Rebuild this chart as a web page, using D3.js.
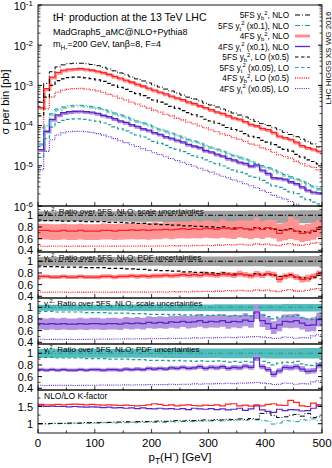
<!DOCTYPE html>
<html><head><meta charset="utf-8">
<script src="https://cdn.jsdelivr.net/npm/d3@7"></script>
<style>body{margin:0;background:#fff} text{font-family:"Liberation Sans",Arial,sans-serif;fill:#000}</style>
</head><body><svg id="c" width="332" height="468"></svg>
<script>
// ---------------- DATA ----------------
const binLow = [0,10,20,30,40,50,60,70,80,90,100,110,120,130,140,150,160,170,180,190,200,210,220,230,240,250,260,270,280,290,300,310,320,330,340,350,360,370,380,390,400,410,420,430,440,450,460,470,480,490];
const xTicks = [0,100,200,300,400,500];
const yLogTicks = [1e-1,1e-2,1e-3,1e-4,1e-5,1e-6];
const yLogExp = ["-1","-2","-3","-4","-5","-6"];
const ratioTicks = [1,0.8,0.6,0.4];
const kTicks = [1.5,1];

// 5FS y_b^2 NLO  [pb per bin]
const yb5NLO = [3.8e-4,1.12e-3,2.19e-3,2.88e-3,3.24e-3,3.47e-3,3.55e-3,3.56e-3,3.46e-3,3.31e-3,
 3.09e-3,2.83e-3,2.56e-3,2.30e-3,2.04e-3,1.83e-3,1.62e-3,1.45e-3,1.29e-3,1.15e-3,
 1.02e-3,9.1e-4,8.1e-4,7.25e-4,6.45e-4,5.75e-4,5.1e-4,4.6e-4,4.1e-4,3.6e-4,
 3.25e-4,2.9e-4,2.57e-4,2.3e-4,2.05e-4,1.83e-4,1.64e-4,1.43e-4,1.27e-4,1.12e-4,
 1.0e-4,8.8e-5,7.9e-5,6.8e-5,6.0e-5,5.3e-5,4.6e-5,4.0e-5,3.5e-5,2.95e-5];
// 5FS y_t^2 NLO  [pb per bin] (drawn x0.1)
const yt5NLO = [3.5e-4,1.02e-3,1.98e-3,2.6e-3,2.92e-3,3.12e-3,3.2e-3,3.2e-3,3.13e-3,2.99e-3,
 2.79e-3,2.55e-3,2.33e-3,2.07e-3,1.85e-3,1.65e-3,1.47e-3,1.31e-3,1.17e-3,1.04e-3,
 9.2e-4,8.2e-4,7.3e-4,6.5e-4,5.85e-4,5.2e-4,4.6e-4,4.15e-4,3.7e-4,3.25e-4,
 2.93e-4,2.6e-4,2.3e-4,2.07e-4,1.85e-4,1.64e-4,1.47e-4,1.3e-4,1.14e-4,1.01e-4,
 9.0e-5,7.9e-5,7.0e-5,6.1e-5,5.35e-5,4.7e-5,4.1e-5,3.6e-5,3.15e-5,2.7e-5];

// ratios over 5FS NLO (y_b^2)
const r4ybNLO = [0.74,0.74,0.73,0.73,0.74,0.73,0.73,0.74,0.73,0.73,
 0.73,0.74,0.74,0.73,0.74,0.74,0.75,0.74,0.75,0.74,
 0.75,0.75,0.76,0.75,0.76,0.77,0.76,0.77,0.76,0.78,
 0.77,0.76,0.78,0.77,0.76,0.79,0.77,0.75,0.78,0.76,
 0.79,0.77,0.69,0.74,0.76,0.73,0.69,0.71,0.74,0.79];
const r5ybLO = [0.92,0.91,0.91,0.91,0.90,0.90,0.90,0.90,0.89,0.89,
 0.89,0.89,0.88,0.88,0.88,0.87,0.87,0.86,0.86,0.85,
 0.85,0.84,0.84,0.83,0.83,0.82,0.82,0.81,0.81,0.80,
 0.80,0.79,0.80,0.78,0.78,0.79,0.77,0.76,0.79,0.77,
 0.78,0.76,0.74,0.75,0.77,0.73,0.72,0.70,0.73,0.76];
const r4ybLO = [0.47,0.468,0.47,0.472,0.47,0.468,0.47,0.471,0.469,0.47,
 0.47,0.472,0.47,0.469,0.471,0.47,0.472,0.47,0.473,0.47,
 0.472,0.475,0.47,0.478,0.473,0.48,0.476,0.482,0.478,0.485,
 0.48,0.49,0.485,0.495,0.49,0.50,0.492,0.488,0.51,0.495,
 0.505,0.49,0.48,0.50,0.515,0.49,0.485,0.50,0.52,0.53];
// ratios over 5FS NLO (y_t^2)
const r4ytNLO = [0.72,0.71,0.72,0.71,0.72,0.71,0.71,0.72,0.71,0.72,
 0.72,0.71,0.72,0.72,0.71,0.73,0.72,0.73,0.72,0.74,
 0.73,0.74,0.73,0.75,0.74,0.76,0.74,0.75,0.77,0.74,
 0.76,0.75,0.77,0.74,0.76,0.75,0.78,0.76,0.92,0.77,
 0.72,0.64,0.70,0.76,0.75,0.77,0.73,0.69,0.70,0.79];
const r5ytLO = [0.93,0.93,0.93,0.92,0.92,0.92,0.92,0.92,0.91,0.91,
 0.91,0.91,0.90,0.90,0.90,0.90,0.89,0.89,0.89,0.88,
 0.88,0.88,0.88,0.87,0.88,0.87,0.87,0.86,0.87,0.86,
 0.86,0.87,0.86,0.85,0.86,0.85,0.86,0.85,0.90,0.86,
 0.84,0.80,0.83,0.85,0.84,0.86,0.82,0.80,0.79,0.84];
const r4ytLO = [0.452,0.448,0.45,0.449,0.451,0.45,0.448,0.452,0.45,0.451,
 0.452,0.455,0.453,0.457,0.455,0.458,0.456,0.46,0.458,0.462,
 0.46,0.465,0.462,0.468,0.465,0.47,0.468,0.475,0.47,0.478,
 0.475,0.48,0.478,0.485,0.48,0.49,0.485,0.492,0.50,0.488,
 0.48,0.465,0.47,0.49,0.485,0.47,0.48,0.475,0.51,0.53];

// uncertainty half-widths (relative units of the ratio)
const sc5ybUp = [0.07,0.07,0.07,0.07,0.07,0.07,0.07,0.07,0.07,0.07,
 0.07,0.07,0.071,0.071,0.072,0.072,0.072,0.073,0.073,0.073,
 0.074,0.074,0.075,0.075,0.075,0.076,0.076,0.077,0.077,0.078,
 0.078,0.078,0.079,0.079,0.08,0.08,0.08,0.081,0.081,0.082,
 0.082,0.082,0.083,0.083,0.084,0.084,0.085,0.085,0.086,0.086];
const sc5ybDn = [0.10,0.10,0.10,0.10,0.10,0.10,0.10,0.10,0.10,0.10,
 0.10,0.10,0.105,0.105,0.105,0.105,0.11,0.11,0.11,0.11,
 0.11,0.11,0.115,0.115,0.115,0.115,0.12,0.12,0.12,0.12,
 0.12,0.12,0.125,0.125,0.125,0.125,0.125,0.13,0.13,0.13,
 0.13,0.13,0.13,0.13,0.135,0.135,0.135,0.135,0.135,0.135];
const sc4ybUp = [0.115,0.115,0.115,0.115,0.115,0.115,0.115,0.115,0.115,0.115,
 0.115,0.12,0.115,0.12,0.12,0.12,0.12,0.12,0.125,0.12,
 0.13,0.12,0.125,0.13,0.13,0.125,0.13,0.14,0.13,0.13,
 0.135,0.13,0.15,0.13,0.14,0.13,0.14,0.16,0.18,0.14,
 0.13,0.15,0.17,0.14,0.21,0.2,0.15,0.14,0.14,0.13];
const sc4ybDn = [0.155,0.155,0.155,0.155,0.155,0.155,0.155,0.155,0.155,0.155,
 0.155,0.155,0.155,0.155,0.16,0.155,0.16,0.155,0.16,0.16,
 0.16,0.16,0.16,0.16,0.16,0.165,0.16,0.165,0.16,0.165,
 0.165,0.16,0.165,0.17,0.165,0.17,0.165,0.16,0.17,0.165,
 0.17,0.17,0.14,0.17,0.165,0.16,0.15,0.15,0.16,0.17];
const pdf5yb = [0.075,0.075,0.075,0.075,0.075,0.075,0.075,0.075,0.075,0.075,
 0.075,0.075,0.075,0.076,0.076,0.076,0.077,0.077,0.077,0.078,
 0.078,0.078,0.079,0.079,0.08,0.08,0.08,0.081,0.081,0.082,
 0.082,0.082,0.083,0.083,0.084,0.084,0.085,0.085,0.086,0.086,
 0.087,0.087,0.088,0.088,0.089,0.089,0.09,0.09,0.091,0.091];
const pdf4yb = [0.035,0.035,0.035,0.035,0.035,0.035,0.035,0.035,0.035,0.035,
 0.036,0.036,0.036,0.037,0.037,0.037,0.038,0.038,0.038,0.039,
 0.039,0.04,0.04,0.04,0.041,0.041,0.042,0.042,0.043,0.043,
 0.044,0.044,0.045,0.045,0.046,0.05,0.046,0.047,0.055,0.047,
 0.048,0.05,0.058,0.049,0.05,0.05,0.055,0.06,0.05,0.052];
const sc5ytUp = [0.045,0.045,0.045,0.045,0.045,0.045,0.045,0.045,0.045,0.045,
 0.045,0.045,0.046,0.046,0.046,0.046,0.047,0.047,0.047,0.047,
 0.048,0.048,0.048,0.048,0.049,0.049,0.049,0.05,0.05,0.05,
 0.05,0.051,0.051,0.051,0.052,0.052,0.052,0.053,0.053,0.053,
 0.054,0.054,0.054,0.055,0.055,0.055,0.056,0.056,0.056,0.057];
const sc5ytDn = [0.06,0.06,0.06,0.06,0.06,0.06,0.06,0.06,0.06,0.06,
 0.06,0.06,0.061,0.061,0.061,0.061,0.062,0.062,0.062,0.062,
 0.063,0.063,0.063,0.063,0.064,0.064,0.064,0.065,0.065,0.065,
 0.065,0.066,0.066,0.066,0.067,0.067,0.067,0.068,0.068,0.068,
 0.069,0.069,0.069,0.07,0.07,0.07,0.071,0.071,0.071,0.072];
const sc4ytUp = [0.10,0.10,0.10,0.10,0.10,0.10,0.10,0.10,0.10,0.10,
 0.10,0.10,0.10,0.10,0.10,0.105,0.10,0.105,0.10,0.105,
 0.105,0.105,0.11,0.105,0.11,0.105,0.11,0.11,0.115,0.11,
 0.11,0.115,0.11,0.12,0.11,0.115,0.12,0.11,0.13,0.12,
 0.11,0.12,0.12,0.115,0.13,0.12,0.11,0.12,0.13,0.12];
const sc4ytDn = [0.10,0.10,0.10,0.10,0.10,0.10,0.10,0.10,0.10,0.10,
 0.10,0.10,0.10,0.10,0.10,0.10,0.10,0.10,0.10,0.10,
 0.10,0.10,0.10,0.10,0.105,0.10,0.105,0.10,0.105,0.10,
 0.105,0.10,0.105,0.11,0.105,0.11,0.105,0.11,0.12,0.11,
 0.11,0.10,0.11,0.11,0.11,0.12,0.11,0.11,0.11,0.12];
const pdf5yt = [0.075,0.075,0.075,0.075,0.075,0.075,0.075,0.075,0.075,0.075,
 0.075,0.075,0.075,0.076,0.076,0.076,0.077,0.077,0.077,0.078,
 0.078,0.078,0.079,0.079,0.08,0.08,0.08,0.081,0.081,0.082,
 0.082,0.082,0.083,0.083,0.084,0.084,0.085,0.085,0.086,0.086,
 0.087,0.087,0.088,0.088,0.089,0.089,0.09,0.09,0.091,0.091];
const pdf4yt = [0.03,0.03,0.03,0.03,0.03,0.03,0.03,0.03,0.03,0.03,
 0.031,0.031,0.031,0.032,0.032,0.032,0.033,0.033,0.033,0.034,
 0.034,0.035,0.035,0.035,0.036,0.036,0.037,0.037,0.038,0.038,
 0.039,0.039,0.04,0.04,0.041,0.041,0.042,0.042,0.05,0.043,
 0.043,0.05,0.045,0.045,0.046,0.046,0.05,0.048,0.048,0.05];

// NLO/LO K-factors
const k5yb = [1.00,1.00,1.01,1.01,1.01,1.02,1.02,1.02,1.03,1.03,
 1.03,1.04,1.04,1.05,1.05,1.06,1.05,1.06,1.07,1.06,
 1.07,1.08,1.07,1.08,1.09,1.08,1.10,1.09,1.10,1.11,
 1.10,1.12,1.11,1.13,1.12,1.14,1.12,1.15,1.13,1.30,
 1.31,1.24,1.18,1.20,1.25,1.27,1.22,1.30,1.18,1.20];
const k5yt = [1.00,0.99,1.00,1.00,1.01,1.00,1.01,1.01,1.02,1.01,
 1.02,1.02,1.03,1.02,1.03,1.03,1.04,1.03,1.04,1.05,
 1.04,1.05,1.04,1.06,1.05,1.06,1.07,1.06,1.08,1.07,
 1.08,1.09,1.08,1.10,1.09,1.11,1.10,1.12,1.11,1.10,
 1.08,0.99,1.02,1.10,1.08,1.06,1.12,1.10,1.14,1.10];
const k4yb = [1.56,1.55,1.55,1.56,1.55,1.56,1.57,1.56,1.55,1.56,
 1.55,1.54,1.55,1.54,1.53,1.54,1.53,1.52,1.53,1.55,
 1.58,1.56,1.53,1.55,1.52,1.54,1.55,1.53,1.52,1.54,
 1.53,1.55,1.52,1.57,1.58,1.52,1.54,1.51,1.55,1.52,
 1.56,1.58,1.54,1.53,1.68,1.62,1.52,1.50,1.60,1.52];
const k4yt = [1.52,1.50,1.51,1.50,1.50,1.49,1.50,1.49,1.48,1.49,
 1.48,1.47,1.48,1.46,1.47,1.45,1.46,1.44,1.46,1.44,
 1.43,1.45,1.43,1.44,1.42,1.44,1.41,1.45,1.43,1.42,
 1.44,1.41,1.43,1.40,1.42,1.45,1.39,1.43,1.52,1.40,
 1.36,1.33,1.42,1.38,1.41,1.40,1.37,1.38,1.45,1.55];

const legendLabels = [
 [["5FS y",""],["b","sub"],["2","sup"],[", NLO",""]],
 [["5FS y",""],["t","sub"],["2","sup"],[" (x0.1), NLO",""]],
 [["4FS y",""],["b","sub"],["2","sup"],[", NLO",""]],
 [["4FS y",""],["t","sub"],["2","sup"],[" (x0.1), NLO",""]],
 [["5FS y",""],["b","sub"],["2","sup"],[", LO (x0.5)",""]],
 [["5FS y",""],["t","sub"],["2","sup"],[" (x0.05), LO",""]],
 [["4FS y",""],["b","sub"],["2","sup"],[", LO (x0.5)",""]],
 [["4FS y",""],["t","sub"],["2","sup"],[" (x0.05), LO",""]]
];
const scaleFactors = [1,0.1,1,0.1,0.5,0.05,0.5,0.05];

// ---------------- STYLES ----------------
const C = {black:"#000", teal:"#1c9c9c", red:"#ff2020", purple:"#5a22c8",
  gray:"#a0a0a0", pink:"#ff9494", tealBand:"#55bcbc", lilac:"#b394e2", lightRed:"#ff9090", lightPurple:"#a98ce0", lightTeal:"#8fd3d3"};
const DASHDOT="5,2,1,2", DASH="3.5,2.5", DOT="1,1.2";
const styles = [
 {c:C.black, d:DASHDOT, w:1},
 {c:C.teal, d:DASHDOT, w:1},
 {c:C.red, d:null, w:1.3},
 {c:C.purple, d:null, w:1.3},
 {c:C.black, d:DASH, w:1.2},
 {c:C.teal, d:DASH, w:1.2},
 {c:C.red, d:DOT, w:1.3},
 {c:C.purple, d:DOT, w:1.1}
];

// ---------------- LAYOUT ----------------
const svg = d3.select("#c");
const X0=38, X1=322;
const TICKFS = 11;
const x = d3.scaleLinear([0,500],[X0,X1]);
const topP = {y0:5, y1:206};
const yT = d3.scaleLog([1e-6,1e-1],[topP.y1, topP.y0]);
const rPanels = [{y0:206,y1:252},{y0:252,y1:298},{y0:298,y1:344},{y0:344,y1:390}];
const kP = {y0:390,y1:433};

function rich(t, parts, size, supK){
  let shift=0; const sk = supK || 0.42;
  parts.forEach(([s,k])=>{
    const target = k==="sup" ? -sk*size : k==="sub" ? 0.28*size : 0;
    const ts = t.append("tspan").text(s).attr("dy", target-shift);
    shift = target;
    if(k) ts.attr("font-size", size*0.72);
  });
}
function pts(vals){ const p = vals.map((v,i)=>[binLow[i], v]); p.push([500, vals[vals.length-1]]); return p; }
function stepLine(ys){ return d3.line().x(d=>x(d[0])).y(d=>ys(d[1])).curve(d3.curveStepAfter); }
function stepArea(ys){ return d3.area().x(d=>x(d[0])).y0(d=>ys(d[1])).y1(d=>ys(d[2])).curve(d3.curveStepAfter); }
function bandPts(center, up, dn){
  const p = center.map((v,i)=>[binLow[i], v-dn[i], v+up[i]]);
  p.push([500, p[p.length-1][1], p[p.length-1][2]]); return p;
}
let clipId=0;
function clipFor(p){
  const id="cl"+(clipId++);
  svg.append("clipPath").attr("id",id).append("rect").attr("x",X0).attr("y",p.y0).attr("width",X1-X0).attr("height",p.y1-p.y0);
  return "url(#"+id+")";
}
function drawLine(g, vals, ys, st){
  g.append("path").attr("d", stepLine(ys)(pts(vals))).attr("fill","none")
   .attr("stroke", st.c).attr("stroke-width", st.w).attr("stroke-dasharray", st.d);
}
function xTicksFor(p){
  const g = svg.append("g");
  d3.range(0,501,50).forEach(v=>{
    const len = v%100===0 ? 4 : 2.5;
    g.append("line").attr("x1",x(v)).attr("x2",x(v)).attr("y1",p.y1).attr("y2",p.y1-len).attr("stroke","#000").attr("stroke-width",0.8);
  });
}

// ---------------- TOP PANEL ----------------
const topSeries = [
  yb5NLO,
  yt5NLO.map(v=>v*scaleFactors[1]),
  yb5NLO.map((v,i)=>v*r4ybNLO[i]),
  yt5NLO.map((v,i)=>v*r4ytNLO[i]*scaleFactors[3]),
  yb5NLO.map((v,i)=>v*r5ybLO[i]*scaleFactors[4]),
  yt5NLO.map((v,i)=>v*r5ytLO[i]*scaleFactors[5]),
  yb5NLO.map((v,i)=>v*r4ybLO[i]*scaleFactors[6]),
  yt5NLO.map((v,i)=>v*r4ytLO[i]*scaleFactors[7])
];
const gTop = svg.append("g").attr("clip-path", clipFor(topP));
[[2,C.lightRed],[3,C.lightPurple],[1,C.lightTeal]].forEach(([k,c])=>{
  gTop.append("path").attr("d", stepLine(yT)(pts(topSeries[k]))).attr("fill","none")
    .attr("stroke", c).attr("stroke-width", 2.2).attr("stroke-dasharray", styles[k].d).attr("transform","translate(1,1.2)");
});
[7,6,5,4,3,1,2,0].forEach(k=>drawLine(gTop, topSeries[k], yT, styles[k]));

svg.append("rect").attr("x",X0).attr("y",topP.y0).attr("width",X1-X0).attr("height",topP.y1-topP.y0).attr("fill","none").attr("stroke","#000").attr("stroke-width",0.9);
(function(){
  const g = svg.append("g");
  yLogTicks.forEach((v,i)=>{
    const y=yT(v);
    g.append("line").attr("x1",X0).attr("x2",X0+4).attr("y1",y).attr("y2",y).attr("stroke","#000");
    g.append("line").attr("x1",X1).attr("x2",X1-4).attr("y1",y).attr("y2",y).attr("stroke","#000");
    const t = g.append("text").attr("x",33).attr("y",y+4.5).attr("text-anchor","end").attr("font-size",TICKFS);
    rich(t, [["10",""],[yLogExp[i],"sup"]], TICKFS, 0.33);
  });
  for(let e=-6;e<-1;e++) for(let m=2;m<10;m++){
    const y=yT(m*Math.pow(10,e));
    g.append("line").attr("x1",X0).attr("x2",X0+2.5).attr("y1",y).attr("y2",y).attr("stroke","#000").attr("stroke-width",0.7);
    g.append("line").attr("x1",X1).attr("x2",X1-2.5).attr("y1",y).attr("y2",y).attr("stroke","#000").attr("stroke-width",0.7);
  }
})();
xTicksFor(topP);

(function(){
  const t1 = svg.append("text").attr("x",53).attr("y",21).attr("font-size",10.5);
  rich(t1, [["tH",""],["-","sup"],[" production at the 13 TeV LHC",""]], 10.5);
  svg.append("text").attr("x",53).attr("y",35).attr("font-size",9).text("MadGraph5_aMC@NLO+Pythia8");
  const t3 = svg.append("text").attr("x",53).attr("y",47).attr("font-size",9);
  rich(t3, [["m",""],["H-","sub"],["=200 GeV, tan\u03b2=8, F=4",""]], 9);
  legendLabels.forEach((lab,i)=>{
    const y = 15 + i*10.5;
    const t = svg.append("text").attr("x",289).attr("y",y+3).attr("text-anchor","end").attr("font-size",8.2);
    rich(t, lab, 8.2);
    const st = styles[i];
    svg.append("line").attr("x1",295).attr("x2",310).attr("y1",y).attr("y2",y)
      .attr("stroke", i===2 ? C.lightRed : st.c).attr("stroke-width", i===2 ? 3 : st.w).attr("stroke-dasharray", st.d);
  });
  svg.append("text").attr("transform","translate(331,58) rotate(-90)").attr("text-anchor","middle").attr("font-size",8).attr("fill","#333").text("LHC HIGGS XS WG 2016");
  svg.append("text").attr("transform","translate(9,102) rotate(-90)").attr("text-anchor","middle").attr("font-size",11).text("\u03c3 per bin [pb]");
})();

// ---------------- RATIO PANELS ----------------
const ones = binLow.map(()=>1);
const panelDefs = [
  {label:[["y",""],["b","sub"],["2","sup"],[": Ratio over 5FS, NLO; scale uncertainties",""]],
   refBand:[sc5ybUp,sc5ybDn], refCol:C.gray, refLine:styles[0],
   b4:[sc4ybUp,sc4ybDn], b4Col:C.pink, c4:r4ybNLO, s4:styles[2], lo5:r5ybLO, s5:styles[4], lo4:r4ybLO, s4lo:styles[6]},
  {label:[["y",""],["b","sub"],["2","sup"],[": Ratio over 5FS, NLO; PDF uncertainties",""]],
   refBand:[pdf5yb,pdf5yb], refCol:C.gray, refLine:styles[0],
   b4:[pdf4yb,pdf4yb], b4Col:C.pink, c4:r4ybNLO, s4:styles[2], lo5:r5ybLO, s5:styles[4], lo4:r4ybLO, s4lo:styles[6]},
  {label:[["y",""],["t","sub"],["2","sup"],[": Ratio over 5FS, NLO; scale uncertainties",""]],
   refBand:[sc5ytUp,sc5ytDn], refCol:C.tealBand, refLine:styles[1],
   b4:[sc4ytUp,sc4ytDn], b4Col:C.lilac, c4:r4ytNLO, s4:styles[3], lo5:r5ytLO, s5:styles[5], lo4:r4ytLO, s4lo:styles[7]},
  {label:[["y",""],["t","sub"],["2","sup"],[": Ratio over 5FS, NLO; PDF uncertainties",""]],
   refBand:[pdf5yt,pdf5yt], refCol:C.tealBand, refLine:styles[1],
   b4:[pdf4yt,pdf4yt], b4Col:C.lilac, c4:r4ytNLO, s4:styles[3], lo5:r5ytLO, s5:styles[5], lo4:r4ytLO, s4lo:styles[7]}
];
panelDefs.forEach((pd,i)=>{
  const p = rPanels[i];
  const ys = d3.scaleLinear([0.37,1.16],[p.y1,p.y0]);
  const g = svg.append("g").attr("clip-path", clipFor(p));
  g.append("path").attr("d", stepArea(ys)(bandPts(ones, pd.refBand[0], pd.refBand[1]))).attr("fill", pd.refCol);
  g.append("path").attr("d", stepArea(ys)(bandPts(pd.c4, pd.b4[0], pd.b4[1]))).attr("fill", pd.b4Col);
  drawLine(g, ones, ys, {c:pd.refLine.c, d:pd.refLine.d, w:1.1});
  drawLine(g, pd.lo4, ys, pd.s4lo);
  drawLine(g, pd.lo5, ys, pd.s5);
  drawLine(g, pd.c4, ys, {c:pd.s4.c, d:null, w:1.2});
  svg.append("rect").attr("x",X0).attr("y",p.y0).attr("width",X1-X0).attr("height",p.y1-p.y0).attr("fill","none").attr("stroke","#000").attr("stroke-width",0.9);
  ratioTicks.forEach(v=>{
    const y=ys(v);
    svg.append("line").attr("x1",X0).attr("x2",X0+4).attr("y1",y).attr("y2",y).attr("stroke","#000");
    svg.append("line").attr("x1",X1).attr("x2",X1-4).attr("y1",y).attr("y2",y).attr("stroke","#000");
    svg.append("text").attr("x",33).attr("y",y+4).attr("text-anchor","end").attr("font-size",TICKFS).text(v===1?"1":v.toFixed(1));
  });
  [1.1,0.9,0.7,0.5].forEach(v=>{
    const y=ys(v);
    svg.append("line").attr("x1",X0).attr("x2",X0+2.5).attr("y1",y).attr("y2",y).attr("stroke","#000").attr("stroke-width",0.7);
    svg.append("line").attr("x1",X1).attr("x2",X1-2.5).attr("y1",y).attr("y2",y).attr("stroke","#000").attr("stroke-width",0.7);
  });
  xTicksFor(p);
  const t = svg.append("text").attr("x",44).attr("y",p.y0+8).attr("font-size",8);
  rich(t, pd.label, 8);
});

// ---------------- K-FACTOR PANEL ----------------
(function(){
  const ys = d3.scaleLinear([0.73,1.98],[kP.y1,kP.y0]);
  const g = svg.append("g").attr("clip-path", clipFor(kP));
  drawLine(g, k5yt, ys, {c:C.teal, d:DASHDOT, w:1});
  drawLine(g, k5yb, ys, {c:C.black, d:DASHDOT, w:1});
  drawLine(g, k4yt, ys, {c:C.purple, d:null, w:1.2});
  drawLine(g, k4yb, ys, {c:C.red, d:null, w:1.2});
  svg.append("rect").attr("x",X0).attr("y",kP.y0).attr("width",X1-X0).attr("height",kP.y1-kP.y0).attr("fill","none").attr("stroke","#000").attr("stroke-width",0.9);
  kTicks.forEach(v=>{
    const y=ys(v);
    svg.append("line").attr("x1",X0).attr("x2",X0+4).attr("y1",y).attr("y2",y).attr("stroke","#000");
    svg.append("line").attr("x1",X1).attr("x2",X1-4).attr("y1",y).attr("y2",y).attr("stroke","#000");
    svg.append("text").attr("x",33).attr("y",y+4).attr("text-anchor","end").attr("font-size",TICKFS).text(v===1?"1":v.toFixed(1));
  });
  [1.25,1.75].forEach(v=>{
    const y=ys(v);
    svg.append("line").attr("x1",X0).attr("x2",X0+2.5).attr("y1",y).attr("y2",y).attr("stroke","#000").attr("stroke-width",0.7);
    svg.append("line").attr("x1",X1).attr("x2",X1-2.5).attr("y1",y).attr("y2",y).attr("stroke","#000").attr("stroke-width",0.7);
  });
  xTicksFor(kP);
  svg.append("text").attr("x",44).attr("y",kP.y0+9).attr("font-size",8.5).text("NLO/LO K-factor");
  xTicks.forEach(v=>{
    svg.append("text").attr("x",x(v)).attr("y",447).attr("text-anchor","middle").attr("font-size",TICKFS+0.5).text(v);
  });
  const xl = svg.append("text").attr("x",180).attr("y",461).attr("text-anchor","middle").attr("font-size",11.5);
  rich(xl, [["p",""],["T","sub"],["(H",""],["-","sup"],[") [GeV]",""]], 11.5);
})();
</script></body></html>
